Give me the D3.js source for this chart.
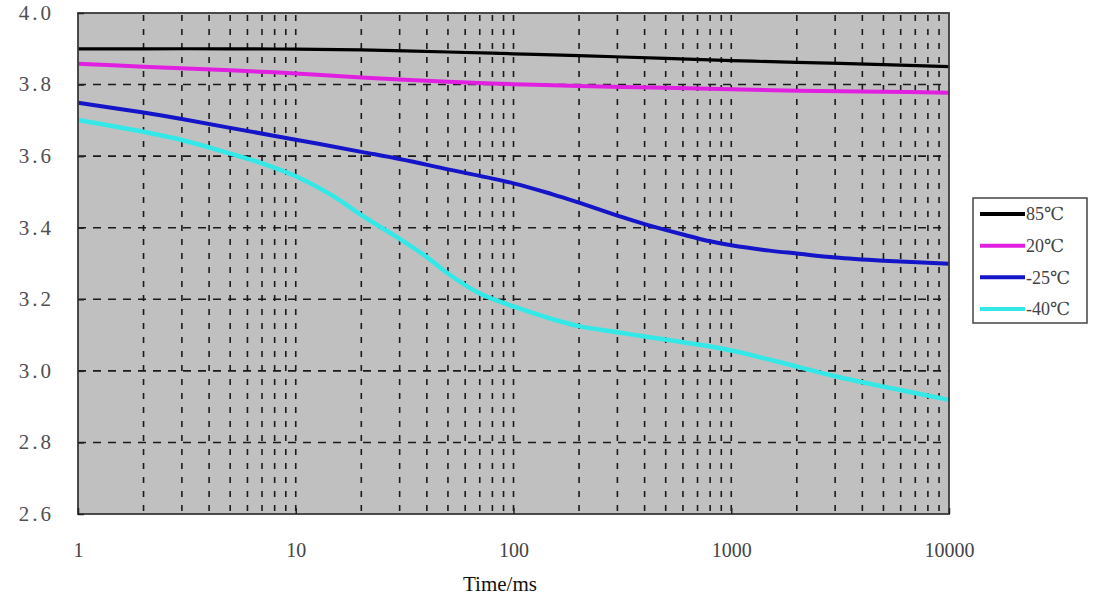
<!DOCTYPE html>
<html><head><meta charset="utf-8">
<script src="https://cdn.jsdelivr.net/npm/d3@7"></script>
<style>
html,body{margin:0;padding:0;background:#fff;}
svg{display:block;}
</style>
</head><body>
<svg id="chart" width="1094" height="598"></svg>
<script>
// ---- data ----
const yTicks = [2.6, 2.8, 3.0, 3.2, 3.4, 3.6, 3.8, 4.0];
const xTicks = [1, 10, 100, 1000, 10000];
const seriesNames = ["85℃", "20℃", "-25℃", "-40℃"];
const seriesColors = ["#000000", "#e01fe0", "#1414c8", "#35e8e8"];

const t85 = [1, 2, 5, 10, 20, 50, 100, 200, 500, 1000, 2000, 5000, 10000];
const v85 = [3.900, 3.900, 3.900, 3.899, 3.897, 3.891, 3.886, 3.881, 3.873, 3.867, 3.862, 3.856, 3.850];

const t20 = [1, 2, 5, 10, 20, 50, 100, 200, 500, 1000, 2000, 5000, 10000];
const v20 = [3.858, 3.850, 3.840, 3.831, 3.820, 3.808, 3.801, 3.796, 3.791, 3.787, 3.783, 3.780, 3.777];

const tm25 = [1, 2, 3, 5, 10, 20, 30, 50, 100, 150, 200, 300, 400, 600, 800, 1000, 1500, 2000, 3000, 5000, 10000];
const vm25 = [3.749, 3.722, 3.704, 3.679, 3.646, 3.612, 3.592, 3.563, 3.524, 3.494, 3.470, 3.434, 3.410, 3.381, 3.362, 3.351, 3.336, 3.328, 3.317, 3.308, 3.299];

const tm40 = [1, 2, 3, 5, 7, 10, 15, 20, 30, 40, 50, 70, 100, 150, 200, 300, 400, 600, 1000, 2000, 3000, 5000, 10000];
const vm40 = [3.701, 3.668, 3.645, 3.607, 3.580, 3.544, 3.487, 3.435, 3.369, 3.318, 3.272, 3.216, 3.180, 3.145, 3.125, 3.108, 3.096, 3.080, 3.057, 3.012, 2.985, 2.956, 2.919];

const seriesT = [t85, t20, tm25, tm40];
const seriesV = [v85, v20, vm25, vm40];

// ---- layout ----
const L = 78, R = 949, T = 13, B = 514;
const svg = d3.select("#chart");
const x = d3.scaleLog().domain([1, 10000]).range([L, R]);
const y = d3.scaleLinear().domain([2.6, 4.0]).range([B, T]);

// plot background
svg.append("rect").attr("x", L).attr("y", T).attr("width", R - L).attr("height", B - T)
  .attr("fill", "#c0c0c0");

// grid
const gridX = x.ticks().filter(d => d > 1 && d < 10000);
svg.append("g").selectAll("line").data(gridX).join("line")
  .attr("x1", d => x(d)).attr("x2", d => x(d)).attr("y1", T + 2).attr("y2", B)
  .attr("stroke", "#1a1a1a").attr("stroke-width", 1.6).attr("stroke-dasharray", "6,8");
svg.append("g").selectAll("line").data(yTicks.filter(d => d > 2.6 && d < 4.0)).join("line")
  .attr("x1", L).attr("x2", R).attr("y1", d => y(d)).attr("y2", d => y(d))
  .attr("stroke", "#1a1a1a").attr("stroke-width", 1.6).attr("stroke-dasharray", "8,7");

// series
const line = d3.line().x(d => x(d[0])).y(d => y(d[1])).curve(d3.curveCatmullRom.alpha(0.5));
const widths = [3.2, 4, 4, 4.5];
seriesT.forEach((ts, i) => {
  const pts = ts.map((t, j) => [t, seriesV[i][j]]);
  svg.append("path").datum(pts).attr("d", line).attr("fill", "none")
    .attr("stroke", seriesColors[i]).attr("stroke-width", widths[i]);
});

// frame
svg.append("rect").attr("x", L).attr("y", T).attr("width", R - L).attr("height", B - T)
  .attr("fill", "none").attr("stroke", "#3a3a3a").attr("stroke-width", 1.8);

// axes
const serif = "'Liberation Serif', 'DejaVu Serif', serif";
const yAxis = d3.axisLeft(y).tickValues(yTicks).tickSize(-6).tickPadding(24)
  .tickFormat(d3.format(".1f"));
const gy = svg.append("g").attr("transform", `translate(${L},0)`).call(yAxis);
gy.select(".domain").remove();
gy.selectAll(".tick line").attr("stroke", "#222").attr("stroke-width", 1.5);
gy.selectAll(".tick text").style("font-family", serif)
  .style("font-size", "21px").attr("fill", "#505050")
  .style("letter-spacing", "3px").attr("dy", "0.3em");

const xAxis = d3.axisBottom(x).tickValues(xTicks).tickSize(-6).tickPadding(29)
  .tickFormat(d3.format("d"));
const gx = svg.append("g").attr("transform", `translate(0,${B})`).call(xAxis);
gx.select(".domain").remove();
gx.selectAll(".tick line").attr("stroke", "#222").attr("stroke-width", 1.5);
gx.selectAll(".tick text").style("font-family", serif)
  .style("font-size", "20px").attr("fill", "#444");

// x title
svg.append("text").attr("x", 500).attr("y", 591).attr("text-anchor", "middle")
  .style("font-family", serif).style("font-size", "21px").attr("fill", "#111")
  .text("Time/ms");

// legend
const lg = svg.append("g");
lg.append("rect").attr("x", 973).attr("y", 198).attr("width", 114).attr("height", 125)
  .attr("fill", "#fff").attr("stroke", "#444").attr("stroke-width", 1.5);
const rowY = d3.scalePoint().domain(seriesNames).range([214, 309]);
seriesNames.forEach((n, i) => {
  lg.append("line").attr("x1", 980).attr("x2", 1025).attr("y1", rowY(n)).attr("y2", rowY(n))
    .attr("stroke", seriesColors[i]).attr("stroke-width", 4);
  lg.append("text").attr("x", 1026).attr("y", rowY(n)).attr("dy", "0.35em")
    .style("font-family", serif).style("font-size", "18px").attr("fill", "#444")
    .text(n);
});
</script>
</body></html>
